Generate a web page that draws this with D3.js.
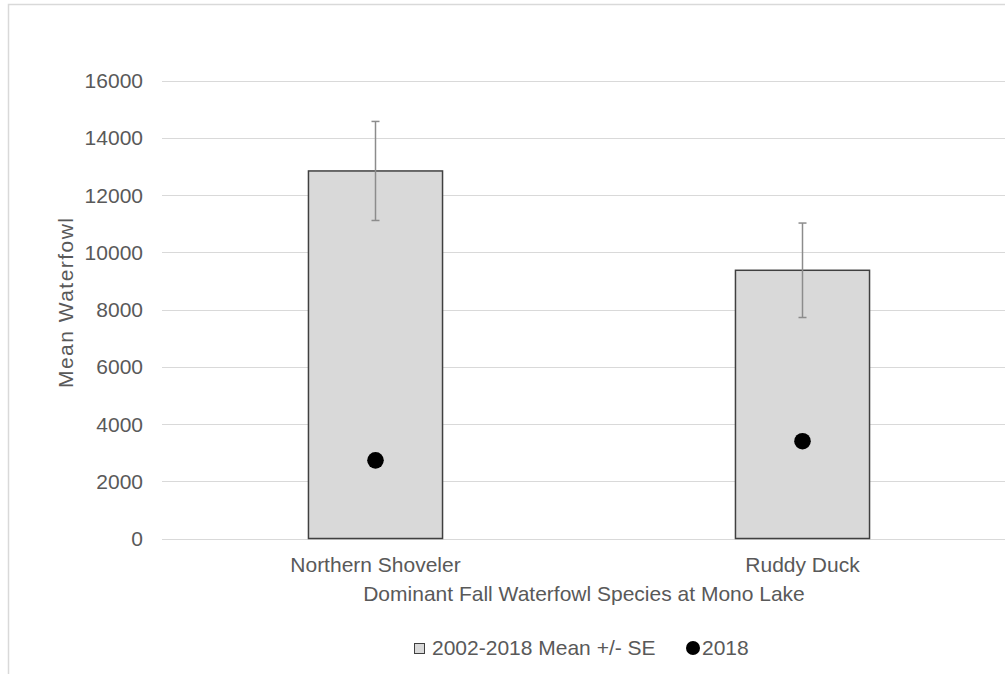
<!DOCTYPE html>
<html><head><meta charset="utf-8">
<script src="https://cdn.jsdelivr.net/npm/d3@7"></script>
<style>body{margin:0;background:#fff}text{font-family:"Liberation Sans",Arial,sans-serif;fill:#595959}</style>
</head><body>
<svg id="c" width="1005" height="674"></svg>
<script>
const categories = ["Northern Shoveler", "Ruddy Duck"];
const meanValues = [12840, 9370];
const seValues = [1730, 1650];
const values2018 = [2730, 3400];
const yTicks = [0, 2000, 4000, 6000, 8000, 10000, 12000, 14000, 16000];
const xTitle = "Dominant Fall Waterfowl Species at Mono Lake";
const yTitle = "Mean Waterfowl";
const legendLabels = ["2002-2018 Mean +/- SE", "2018"];

const svg = d3.select("#c");
const fs = 21;
svg.append("rect").attr("x", 8.5).attr("y", 4.5).attr("width", 1200).attr("height", 1000)
  .attr("fill", "none").attr("stroke", "#d9d9d9").attr("stroke-width", 1.5);

const x = d3.scaleBand().domain(categories).range([162, 1016]).paddingInner(0).paddingOuter(0);
const y = d3.scaleLinear().domain([0, 16000]).range([538.5, 80.5]);
const barW = x.bandwidth() * 0.314;

// gridlines
svg.append("g").selectAll("line").data(yTicks).join("line")
  .attr("x1", 162).attr("x2", 1016).attr("y1", d => Math.round(y(d)) + 0.5).attr("y2", d => Math.round(y(d)) + 0.5)
  .attr("stroke", "#d9d9d9").attr("stroke-width", 1.2);

// y tick labels
svg.append("g").selectAll("text").data(yTicks).join("text")
  .attr("x", 143).attr("y", d => y(d) + 7.5).attr("text-anchor", "end")
  .style("font-size", fs + "px").text(d => d);

// bars
svg.append("g").selectAll("rect").data(categories).join("rect")
  .attr("x", d => x(d) + x.bandwidth() / 2 - barW / 2)
  .attr("y", (d, i) => y(meanValues[i]))
  .attr("width", barW)
  .attr("height", (d, i) => y(0) - y(meanValues[i]))
  .attr("fill", "#d9d9d9").attr("stroke", "#404040").attr("stroke-width", 1.5);

// error bars
const eb = svg.append("g").attr("stroke", "#8c8c8c").attr("stroke-width", 1.5);
categories.forEach((c, i) => {
  const cx = x(c) + x.bandwidth() / 2;
  const top = y(meanValues[i] + seValues[i]), bot = y(meanValues[i] - seValues[i]);
  eb.append("line").attr("x1", cx).attr("x2", cx).attr("y1", top).attr("y2", bot);
  eb.append("line").attr("x1", cx - 4).attr("x2", cx + 4).attr("y1", top).attr("y2", top);
  eb.append("line").attr("x1", cx - 4).attr("x2", cx + 4).attr("y1", bot).attr("y2", bot);
});

// 2018 dots
svg.append("g").selectAll("circle").data(categories).join("circle")
  .attr("cx", d => x(d) + x.bandwidth() / 2)
  .attr("cy", (d, i) => y(values2018[i]))
  .attr("r", 8.3).attr("fill", "#000");

// x labels
svg.append("g").selectAll("text").data(categories).join("text")
  .attr("x", d => x(d) + x.bandwidth() / 2).attr("y", 572).attr("text-anchor", "middle")
  .style("font-size", fs + "px").text(d => d);

// axis titles
svg.append("text").attr("x", 584).attr("y", 601).attr("text-anchor", "middle")
  .style("font-size", fs + "px").text(xTitle);
svg.append("text").attr("transform", "translate(73,303) rotate(-90)").attr("text-anchor", "middle")
  .attr("textLength", 170).attr("lengthAdjust", "spacing")
  .style("font-size", fs + "px").text(yTitle);

// legend
svg.append("rect").attr("x", 414.5).attr("y", 643.5).attr("width", 10).attr("height", 10)
  .attr("fill", "#d9d9d9").attr("stroke", "#404040").attr("stroke-width", 1);
svg.append("text").attr("x", 432).attr("y", 655).style("font-size", fs + "px").text(legendLabels[0]);
svg.append("circle").attr("cx", 693).attr("cy", 648).attr("r", 7).attr("fill", "#000");
svg.append("text").attr("x", 702).attr("y", 655).style("font-size", fs + "px").text(legendLabels[1]);
</script>
</body></html>
